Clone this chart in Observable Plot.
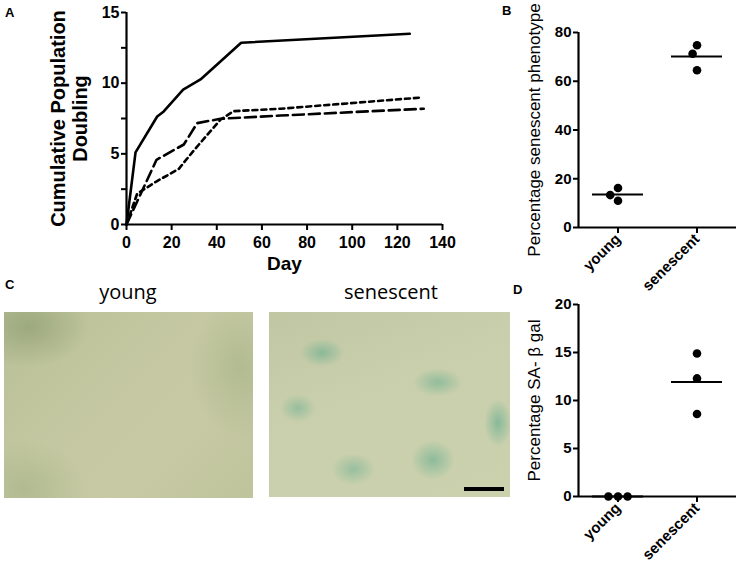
<!DOCTYPE html>
<html>
<head>
<meta charset="utf-8">
<script src="https://cdn.jsdelivr.net/npm/d3@7"></script>
<script src="https://cdn.jsdelivr.net/npm/@observablehq/plot@0.6"></script>
<style>
  html, body { margin: 0; padding: 0; background: #fff; }
  #root { position: relative; width: 743px; height: 568px; overflow: hidden; background: #fff;
          font-family: "Liberation Sans", Arial, sans-serif; }
  .panel { position: absolute; }
  .panel svg { display: block; overflow: visible; }
  .letter { position: absolute; font: bold 13px "Liberation Sans", Arial, sans-serif; line-height: 1; }
  .clabel { position: absolute; font: 20px "Open Sans", Lato, sans-serif; line-height: 1; transform: translate(-50%, -50%); white-space: nowrap; }
  .micro { position: absolute; }
  #imgYoung { left: 4px; top: 312px; width: 249px; height: 186px;
    background:
      radial-gradient(ellipse 60px 40px at 10% 8%, rgba(120,140,95,0.45), rgba(120,140,95,0) 100%),
      radial-gradient(ellipse 50px 70px at 95% 30%, rgba(140,160,110,0.35), rgba(140,160,110,0) 100%),
      radial-gradient(ellipse 60px 50px at 8% 95%, rgba(140,160,110,0.35), rgba(140,160,110,0) 100%),
      linear-gradient(135deg, #b7be95 0%, #c4c8a2 40%, #c6c9a4 70%, #bfc49c 100%); }
  #imgSen { left: 269px; top: 312px; width: 241px; height: 185px;
    background:
      radial-gradient(ellipse 22px 14px at 22% 22%, rgba(90,170,140,0.55), rgba(90,170,140,0) 100%),
      radial-gradient(ellipse 25px 14px at 70% 38%, rgba(90,170,140,0.5), rgba(90,170,140,0) 100%),
      radial-gradient(ellipse 22px 20px at 68% 80%, rgba(90,170,140,0.55), rgba(90,170,140,0) 100%),
      radial-gradient(ellipse 14px 24px at 95% 60%, rgba(90,170,140,0.6), rgba(90,170,140,0) 100%),
      radial-gradient(ellipse 18px 14px at 12% 52%, rgba(90,170,140,0.45), rgba(90,170,140,0) 100%),
      radial-gradient(ellipse 22px 16px at 35% 85%, rgba(90,170,140,0.45), rgba(90,170,140,0) 100%),
      linear-gradient(160deg, #c0c6a2 0%, #c9cfac 40%, #cbd1ad 100%); }
  #scalebar { left: 464px; top: 487px; width: 40px; height: 4px; background: #000; }
</style>
</head>
<body>
<div id="root">
  <div class="letter" style="left:5px; top:6px;">A</div>
  <div class="letter" style="left:502px; top:4px;">B</div>
  <div class="letter" style="left:5px; top:278px;">C</div>
  <div class="letter" style="left:513px; top:283px;">D</div>
  <div class="clabel" style="left:128px; top:292px;">young</div>
  <div class="clabel" style="left:391px; top:292px;">senescent</div>
  <div class="micro" id="imgYoung"></div>
  <div class="micro" id="imgSen"></div>
  <div class="micro" id="scalebar"></div>
  <div class="panel" id="pA" style="left:0; top:0;"></div>
  <div class="panel" id="pB" style="left:480px; top:0;"></div>
  <div class="panel" id="pD" style="left:480px; top:290px;"></div>
</div>
<script>
// ---------- Panel A: cumulative population doubling ----------
const solidDay = [0, 4, 13.6, 16.5, 25.1, 32.8, 50.8, 125.5];
const solidPD  = [0, 5.1, 7.64, 8.0, 9.55, 10.26, 12.86, 13.5];
const longDay  = [0, 13.3, 25.4, 31.3, 41.6, 68.2, 131.7];
const longPD   = [0, 4.58, 5.66, 7.17, 7.48, 7.71, 8.19];
const shortDay = [0, 4.7, 12.8, 23.2, 29.8, 41.6, 47.5, 68.2, 129.5];
const shortPD  = [0, 2.17, 3.0, 3.94, 5.24, 7.41, 8.02, 8.19, 8.97];
const xTicksA = [0, 20, 40, 60, 80, 100, 120, 140];
const yTicksA = [0, 2.5, 5, 7.5, 10, 12.5, 15];
const yLabelsA = [0, 5, 10, 15];

// ---------- Panel B: percentage senescent phenotype ----------
const groups = ["young", "senescent"];
const bYoung = [16.2, 11.0, 13.3];
const bSenescent = [64.5, 74.8, 71.3];
const yTicksB = [0, 20, 40, 60, 80];

// ---------- Panel D: percentage SA-beta gal ----------
const dYoung = [0, 0, 0];
const dSenescent = [14.9, 12.3, 8.6];
const yTicksD = [0, 5, 10, 15, 20];

const toRows = (xs, ys) => xs.map((x, i) => ({day: x, pd: ys[i]}));
const solidRows = toRows(solidDay, solidPD);
const longRows = toRows(longDay, longPD);
const shortRows = toRows(shortDay, shortPD);

const font = '"Liberation Sans", Arial, sans-serif';

const plotA = Plot.plot({
  width: 470, height: 282,
  marginLeft: 126, marginRight: 28, marginTop: 12, marginBottom: 58,
  style: {fontFamily: font, fontSize: "16px", fontWeight: "bold", color: "#000", background: "transparent", overflow: "visible"},
  x: {domain: [0, 140], axis: null},
  y: {domain: [0, 15], axis: null},
  marks: [
    Plot.axisX({ticks: xTicksA, tickSize: 6, tickPadding: 6, strokeWidth: 2, fontSize: 16, fontWeight: "bold", label: null}),
    Plot.axisY({ticks: yTicksA, tickSize: 5, tickPadding: 2, strokeWidth: 2, fontSize: 16, fontWeight: "bold",
      tickFormat: d => yLabelsA.includes(d) ? String(d) : "", label: null}),
    Plot.ruleY([0], {strokeWidth: 2.2}),
    Plot.ruleX([0], {strokeWidth: 2.2}),
    Plot.line(solidRows, {x: "day", y: "pd", stroke: "#000", strokeWidth: 2.6, strokeLinejoin: "miter"}),
    Plot.line(longRows, {x: "day", y: "pd", stroke: "#000", strokeWidth: 2.6, strokeDasharray: "11,5", strokeLinejoin: "miter"}),
    Plot.line(shortRows, {x: "day", y: "pd", stroke: "#000", strokeWidth: 2.6, strokeDasharray: "5,4", strokeLinejoin: "miter"}),
    Plot.text(["Cumulative Population\nDoubling"], {text: d => d, frameAnchor: "left", dx: -58, rotate: -90,
      fontSize: 20, fontWeight: "bold", lineHeight: 1.1, textAnchor: "middle", lineAnchor: "middle"}),
    Plot.text(["Day"], {text: d => d, frameAnchor: "bottom", dy: 45, fontSize: 19, fontWeight: "bold", textAnchor: "middle"})
  ]
});
document.getElementById("pA").appendChild(plotA);

function scatterPanel({youngVals, senVals, yDomain, yTicks, label, width, height, marginTop, marginBottom}) {
  const rows = [
    ...youngVals.map(v => ({group: groups[0], value: v})),
    ...senVals.map(v => ({group: groups[1], value: v}))
  ];
  const means = [
    {group: groups[0], mean: d3.mean(youngVals)},
    {group: groups[1], mean: d3.mean(senVals)}
  ];
  return Plot.plot({
    width, height,
    marginLeft: 98, marginRight: 7, marginTop, marginBottom,
    style: {fontFamily: font, fontSize: "15px", fontWeight: "bold", color: "#000", background: "transparent", overflow: "visible"},
    fx: {domain: groups, padding: 0, axis: null},
    x: {domain: [0, 1], axis: null},
    y: {domain: yDomain, axis: null},
    marks: [
      Plot.axisFx({anchor: "bottom", tickSize: 6, tickPadding: 3, strokeWidth: 2, tickRotate: -45, fontSize: 15, fontWeight: "bold", label: null}),
      Plot.axisY({anchor: "left", ticks: yTicks, tickSize: 5, tickPadding: 2, strokeWidth: 2, fontSize: 15, fontWeight: "bold", label: null}),
      Plot.ruleX([{group: groups[0]}], {fx: "group", x: () => 0, strokeWidth: 2.2}),
      Plot.ruleY([0], {strokeWidth: 2.2}),
      Plot.ruleY(means, {fx: "group", y: "mean", insetLeft: 14, insetRight: 14, strokeWidth: 2}),
      Plot.dot(rows, Plot.dodgeX("middle", {fx: "group", y: "value", r: 4.3, fill: "#000", stroke: "none", padding: 3})),
      Plot.text([{group: groups[0], t: label}], {fx: "group", text: "t", frameAnchor: "left", dx: -44, rotate: -90,
        fontSize: 17, fontWeight: "normal", textAnchor: "middle", lineAnchor: "middle"})
    ]
  });
}

const plotB = scatterPanel({youngVals: bYoung, senVals: bSenescent, yDomain: [0, 80], yTicks: yTicksB,
  label: "Percentage senescent phenotype", width: 263, height: 290, marginTop: 32, marginBottom: 63});
document.getElementById("pB").appendChild(plotB);

const plotD = scatterPanel({youngVals: dYoung, senVals: dSenescent, yDomain: [0, 20], yTicks: yTicksD,
  label: "Percentage SA- \u03b2 gal", width: 263, height: 278, marginTop: 14, marginBottom: 72});
document.getElementById("pD").appendChild(plotD);
</script>
</body>
</html>
